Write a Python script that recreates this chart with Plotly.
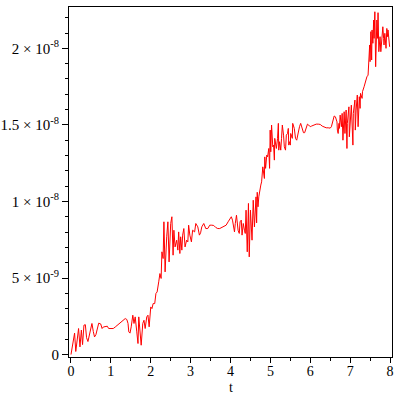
import plotly.graph_objects as go

# time values (t) and signal values in units of 1e-9
t_vals = [
    0.00, 0.03, 0.06, 0.09, 0.12, 0.155, 0.19, 0.225, 0.26, 0.29, 0.325, 0.36, 0.39, 0.425,
    0.46, 0.49, 0.525, 0.56, 0.59, 0.625, 0.66, 0.695, 0.745, 0.78, 0.81, 0.86, 0.91, 0.945,
    0.995, 1.06, 1.11, 1.16, 1.21, 1.26, 1.31, 1.36, 1.40, 1.43, 1.45, 1.48, 1.51, 1.55,
    1.58, 1.61, 1.65, 1.68, 1.70, 1.73, 1.76, 1.80, 1.83, 1.86, 1.90, 1.93, 1.96, 2.00,
    2.03, 2.06, 2.10, 2.13,
    2.16, 2.20, 2.23, 2.26, 2.28, 2.31, 2.33, 2.36, 2.38, 2.40, 2.43, 2.46, 2.50, 2.53,
    2.56, 2.58, 2.61, 2.65, 2.68, 2.70, 2.73, 2.75, 2.78, 2.80, 2.83, 2.86, 2.90, 2.93,
    2.95, 2.98, 3.02, 3.05, 3.10, 3.13, 3.18, 3.22,
    3.25, 3.28, 3.33, 3.38, 3.43, 3.48, 3.53, 3.58, 3.63, 3.68, 3.73, 3.79, 3.84, 3.89,
    3.94, 3.98, 4.02, 4.05, 4.09, 4.10, 4.12, 4.15, 4.19, 4.22, 4.24, 4.27, 4.29, 4.32,
    4.35, 4.37, 4.39, 4.42, 4.45, 4.47, 4.50, 4.54, 4.57, 4.60, 4.64,
    4.655, 4.67, 4.69, 4.71, 4.73, 4.76, 4.78, 4.81, 4.85, 4.86, 4.88, 4.91, 4.93, 4.96,
    4.98, 4.995, 5.01, 5.03, 5.06, 5.08, 5.10, 5.11, 5.15, 5.18, 5.20, 5.21, 5.23, 5.26,
    5.28, 5.30, 5.33, 5.35, 5.38, 5.40, 5.43, 5.45, 5.46, 5.48, 5.50, 5.51, 5.55, 5.56,
    5.60, 5.63, 5.66, 5.70, 5.73, 5.76, 5.80, 5.83, 5.86, 5.90, 5.93, 5.96, 6.00, 6.03, 6.08,
    6.15, 6.20, 6.25, 6.30, 6.35, 6.40, 6.45, 6.50, 6.53, 6.57, 6.60, 6.63, 6.67, 6.68,
    6.70, 6.72, 6.73, 6.75, 6.78, 6.80, 6.82, 6.85, 6.87, 6.90, 6.92, 6.93, 6.97, 6.98,
    7.00, 7.03, 7.07, 7.08, 7.12, 7.13, 7.15, 7.18, 7.20, 7.23, 7.25, 7.26, 7.30, 7.31, 7.35,
    7.39, 7.42, 7.45, 7.47, 7.49, 7.50, 7.52, 7.54, 7.55, 7.57, 7.59, 7.60, 7.62, 7.64,
    7.65, 7.67, 7.69, 7.70, 7.72, 7.74, 7.75, 7.77, 7.79, 7.82, 7.84, 7.85, 7.87, 7.90,
    7.92, 7.94, 7.95, 7.97, 7.99,
]

y_nano = [
    0.00, 0.45, 1.05, 1.40, 0.20, 1.00, 1.70, 0.50, 1.60, 0.65, 1.92, 1.95, 1.10, 0.85,
    1.20, 1.50, 2.03, 1.50, 1.15, 1.30, 1.70, 2.05, 2.00, 1.70, 1.80, 1.85, 1.85, 1.70,
    1.70, 1.70, 1.80, 1.92, 2.05, 2.13, 2.29, 2.35, 2.29, 2.03, 1.48, 1.40, 1.81, 2.57,
    2.03, 2.46, 1.48, 0.72, 2.46, 1.37, 0.61, 2.03, 2.24, 1.70, 2.46, 2.57, 1.81, 3.11,
    3.00, 3.33, 3.33, 3.99,
    4.09, 4.75, 5.29, 4.97, 6.71, 6.27, 8.67, 5.40, 7.03, 7.69, 8.67, 6.05, 8.56, 9.00,
    6.49, 8.12, 7.03, 7.47, 6.82, 8.01, 6.60, 7.69, 6.82, 7.80, 8.23, 7.03, 7.47, 7.36,
    8.45, 7.80, 7.36, 8.12, 8.01, 8.56, 8.34, 7.80,
    7.95, 8.34, 8.56, 8.23, 8.23, 8.45, 8.45, 8.43, 8.30, 8.23, 8.23, 8.30, 8.34, 8.45,
    8.67, 8.89, 9.00, 8.78, 8.23, 8.01, 8.56, 9.10, 8.12, 7.91, 8.67, 8.78, 7.80, 8.56,
    8.12, 7.91, 9.43, 6.71, 9.87, 6.38, 9.43, 7.47, 10.08, 8.34, 10.30,
    8.60, 10.60, 9.65, 10.30, 10.74, 11.07, 11.28, 12.26, 11.50, 12.91, 12.16, 13.03, 12.91, 13.46,
    12.16, 14.66, 13.24, 14.99, 13.57, 13.68, 12.70, 14.12, 13.46, 14.12, 15.10, 13.35, 13.90, 13.35,
    14.12, 14.99, 14.33, 13.57, 13.35, 14.33, 14.44, 14.77, 13.68, 13.90, 13.68, 14.44, 14.12, 15.10,
    14.77, 14.12, 14.00, 14.55, 14.88, 15.10, 14.77, 14.49, 14.49, 14.77, 15.05, 14.99, 14.88, 14.92, 14.99,
    15.05, 15.05, 15.03, 14.92, 14.84, 14.81, 14.81, 14.79, 14.88, 15.31, 15.58, 15.53, 15.20, 14.66,
    14.44, 15.10, 14.77, 15.64, 14.88, 15.75, 14.00, 15.86, 14.44, 15.97, 13.46, 15.10, 16.18, 14.22,
    15.42, 16.29, 13.68, 15.75, 16.62, 14.66, 15.97, 16.95, 14.88, 16.84, 16.08, 17.06, 16.73, 17.17, 17.49,
    17.93, 18.14, 18.25, 19.24, 20.22, 19.13, 21.09, 19.24, 21.20, 20.33, 21.85, 20.65, 22.39, 18.80,
    20.76, 21.85, 20.65, 22.33, 19.78, 20.33, 20.76, 19.78, 20.33, 21.41, 20.65, 20.22, 20.98, 20.00,
    21.30, 20.76, 21.20, 20.33, 20.10,
]

x_tick_vals = [0, 1, 2, 3, 4, 5, 6, 7, 8]
y_tick_vals_nano = [0, 5, 10, 15, 20]
y_tick_text = ["0", "5 × 10<sup>-9</sup>", "1 × 10<sup>-8</sup>",
               "1.5 × 10<sup>-8</sup>", "2 × 10<sup>-8</sup>"]
x_label = "t"

y_vals = [v * 1e-9 for v in y_nano]
y_ticks = [v * 1e-9 for v in y_tick_vals_nano]

font = dict(family="Liberation Serif", size=15, color="black")
xfont = dict(family="Liberation Serif", size=14, color="black")

fig = go.Figure()
fig.add_trace(go.Scatter(x=t_vals, y=y_vals, mode="lines",
                         line=dict(color="#ff0000", width=1)))

fig.update_layout(
    width=400, height=400,
    margin=dict(l=69, r=8, t=7, b=43),
    paper_bgcolor="white", plot_bgcolor="white",
    showlegend=False,
    font=font,
    annotations=[dict(text=x_label, xref="paper", yref="paper", x=0.5, y=-0.088,
                      xanchor="center", yanchor="middle", showarrow=False, font=xfont)],
)
fig.update_xaxes(
    range=[-0.05, 8.05], showgrid=False, zeroline=False, automargin=False,
    showline=True, linecolor="black", linewidth=1, mirror=True,
    tickmode="array", tickvals=x_tick_vals, ticks="outside", ticklen=5,
    tickcolor="black", tickfont=xfont, ticklabelstandoff=-4,
    minor=dict(tickmode="linear", tick0=0, dtick=0.5, ticks="outside",
               ticklen=3, tickcolor="black"),
)
fig.update_yaxes(
    range=[-0.16e-9, 22.7e-9], showgrid=False, zeroline=False, automargin=False,
    showline=True, linecolor="black", linewidth=1, mirror=True,
    tickmode="array", tickvals=y_ticks, ticktext=y_tick_text,
    ticks="outside", ticklen=6, tickcolor="black", tickfont=font,
    minor=dict(tickmode="linear", tick0=0, dtick=1e-9, ticks="outside",
               ticklen=3, tickcolor="black"),
)

fig.write_html("out.html", config={"displayModeBar": False},
               post_script="document.body.style.margin='0';")
